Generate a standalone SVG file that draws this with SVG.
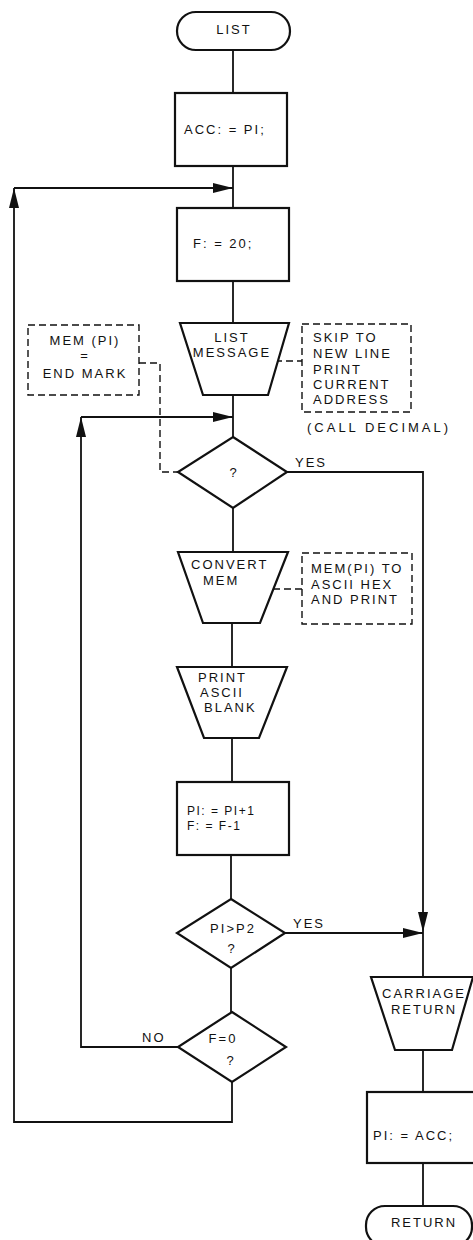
<svg xmlns="http://www.w3.org/2000/svg" width="473" height="1240" viewBox="0 0 473 1240">
<style>
.s{fill:#fff;stroke:#111;stroke-width:2.2;stroke-linejoin:miter}
.c{fill:none;stroke:#111;stroke-width:1.8}
.d{fill:none;stroke:#111;stroke-width:1.4;stroke-dasharray:7 4}
text{font-family:"Liberation Sans",Arial,sans-serif;font-size:13px;fill:#111;letter-spacing:2px}
.m{text-anchor:middle}
</style>
<defs>
<marker id="ar" viewBox="0 0 20 10" markerWidth="20" markerHeight="10" refX="20" refY="5" orient="auto" markerUnits="userSpaceOnUse">
<path d="M0,0 L20,5 L0,10 z" fill="#111"/>
</marker>
</defs>
<rect width="473" height="1240" fill="#fff"/>
<g id="connectors">
<path class="c" d="M233,50 V93"/>
<path class="c" d="M233,166 V208"/>
<path class="c" d="M232,1082 V1122 H14 V188" marker-end="url(#ar)"/>
<path class="c" d="M14,188 H233" marker-end="url(#ar)"/>
<path class="c" d="M233,281 V323"/>
<path class="c" d="M233,395 V437"/>
<path class="c" d="M178,1047 H81 V417" marker-end="url(#ar)"/>
<path class="c" d="M81,417 H233" marker-end="url(#ar)"/>
<path class="c" d="M233,508 V552"/>
<path class="c" d="M287,472 H423 V932" marker-end="url(#ar)"/>
<path class="c" d="M232,623 V667"/>
<path class="c" d="M232,738 V782"/>
<path class="c" d="M231,855 V899"/>
<path class="c" d="M285,933 H423" marker-end="url(#ar)"/>
<path class="c" d="M231,968 V1012"/>
<path class="c" d="M423,932 V977"/>
<path class="c" d="M423,1050 V1092"/>
<path class="c" d="M423,1163 V1206"/>
<path class="d" d="M139,363 H160 V472 H178"/>
<path class="d" d="M275,361 H302"/>
<path class="d" d="M273,589 H302"/>
<text x="295" y="467">YES</text>
<text x="293" y="928">YES</text>
<text x="142" y="1042">NO</text>
</g>
<g id="n-list">
<rect class="s" x="177" y="12" width="113" height="38" rx="19"/>
<text class="m" x="234" y="34">LIST</text>
</g>
<g id="n-acc">
<rect class="s" x="175" y="93" width="112" height="73"/>
<text x="184" y="134">ACC: = PI;</text>
</g>
<g id="n-f20">
<rect class="s" x="177" y="208" width="112" height="73"/>
<text x="193" y="248">F: = 20;</text>
</g>
<g id="n-listmsg">
<polygon class="s" points="180,323 289,323 268,395 203,395"/>
<text class="m" x="232" y="342">LIST</text>
<text class="m" x="232" y="357">MESSAGE</text>
</g>
<g id="n-endmark">
<rect class="d" x="28" y="325" width="111" height="70"/>
<text class="m" x="85" y="345">MEM (PI)</text>
<text class="m" x="85" y="360">=</text>
<text class="m" x="85" y="378">END MARK</text>
</g>
<g id="n-skip">
<rect class="d" x="302" y="324" width="109" height="88"/>
<text x="313" y="342">SKIP TO</text>
<text x="313" y="358">NEW LINE</text>
<text x="313" y="374">PRINT</text>
<text x="313" y="389">CURRENT</text>
<text x="313" y="404">ADDRESS</text>
<text x="307" y="432" style="letter-spacing:3px">(CALL DECIMAL)</text>
</g>
<g id="n-q1">
<polygon class="s" points="233,437 287,472 233,508 178,472"/>
<text class="m" x="234" y="477">?</text>
</g>
<g id="n-convert">
<polygon class="s" points="178,552 288,552 260,623 203,623"/>
<text x="191" y="569">CONVERT</text>
<text x="203" y="585">MEM</text>
</g>
<g id="n-hex">
<rect class="d" x="302" y="553" width="110" height="71"/>
<text x="311" y="573">MEM(PI) TO</text>
<text x="311" y="589">ASCII HEX</text>
<text x="311" y="604">AND PRINT</text>
</g>
<g id="n-blank">
<polygon class="s" points="177,667 287,667 259,738 204,738"/>
<text x="198" y="682">PRINT</text>
<text x="200" y="697">ASCII</text>
<text x="204" y="712">BLANK</text>
</g>
<g id="n-inc">
<rect class="s" x="177" y="782" width="112" height="73"/>
<text x="187" y="815" style="font-size:12px;letter-spacing:1.5px">PI: = PI+1</text>
<text x="187" y="830" style="font-size:12px;letter-spacing:1.5px">F: = F-1</text>
</g>
<g id="n-q2">
<polygon class="s" points="231,899 285,933 231,968 177,933"/>
<text class="m" x="233" y="933">PI&gt;P2</text>
<text class="m" x="232" y="953">?</text>
</g>
<g id="n-q3">
<polygon class="s" points="232,1012 286,1047 232,1082 178,1047"/>
<text class="m" x="223" y="1043">F=0</text>
<text class="m" x="231" y="1065">?</text>
</g>
<g id="n-cr">
<polygon class="s" points="371,977 473,977 452,1050 395,1050"/>
<text class="m" x="424" y="998">CARRIAGE</text>
<text class="m" x="424" y="1014">RETURN</text>
</g>
<g id="n-restore">
<rect class="s" x="367" y="1092" width="110" height="71"/>
<text x="373" y="1140">PI: = ACC;</text>
</g>
<g id="n-return">
<rect class="s" x="366" y="1206" width="106" height="40" rx="19"/>
<text class="m" x="424" y="1227">RETURN</text>
</g>
</svg>
